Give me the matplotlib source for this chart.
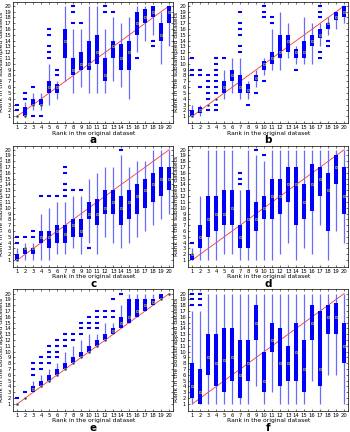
import matplotlib
matplotlib.use("Agg")
import matplotlib.pyplot as plt

positions = list(range(1, 21))

# panel a
a_lo = [1, 1, 2, 2, 3, 4, 7, 5, 6, 5, 5, 5, 7, 6, 4, 12, 14, 15, 10, 13]
a_q1 = [1, 1, 3, 3, 5, 5, 11, 8, 9, 9, 10, 7, 11, 9, 9, 15, 17, 18, 14, 17]
a_med = [1, 1, 3, 3, 6, 6, 14, 9, 10, 10, 12, 8, 13, 11, 12, 17, 18, 19, 15, 19]
a_q3 = [1, 2.5, 4, 4, 7, 6.5, 16, 11, 12, 14, 15, 11, 14, 13.5, 14, 19, 19.5, 20, 17, 20]
a_hi = [1, 3.5, 5, 5, 10, 7, 20, 16, 16, 20, 20, 16, 18, 17, 18, 20, 20, 20, 19, 20]
a_out = [[2, 3], [4, 5], [1, 6], [1], [11, 12, 13, 15, 16], [8, 9], [], [17, 19, 20],
         [17], [], [], [19, 20], [19], [], [], [11], [], [13, 14], [], []]

# panel b
b_lo = [1, 1, 3, 4, 4, 5, 4, 4, 6, 8, 9, 9, 11, 10, 10, 10, 13, 15, 16, 17]
b_q1 = [1, 1.5, 3, 4, 5, 7, 5, 5, 7, 9, 10, 11, 12, 11, 11, 13, 14.5, 16, 17.5, 18]
b_med = [1, 2, 3, 4, 6, 8, 6, 5.5, 7.5, 10, 11, 12, 14, 12, 12, 14, 15, 17, 18, 19]
b_q3 = [2, 2.5, 3, 4, 7, 9, 8, 6.5, 8, 10.5, 12, 15, 15, 12.5, 14, 15, 16, 17, 19, 20]
b_hi = [3, 3, 3, 4, 9, 11, 11, 7, 9, 11, 16, 19, 17, 13, 18, 17, 17, 18, 19, 20]
b_out = [[8, 9, 11], [6, 8, 9], [2, 4, 5, 6, 7, 8], [2, 3, 5, 6, 7, 8, 9, 10, 11], [11], [],
         [12, 13, 15, 16, 17, 19], [3], [5], [7, 18, 19, 20], [17, 18], [], [], [9], [], [],
         [11, 12, 18, 19, 20], [13, 14], [], []]

# panel c
c_lo = [1, 1, 1, 1, 1, 2, 2, 3, 2, 4, 2, 5, 4, 3, 4, 5, 6, 7, 8, 9]
c_q1 = [1, 2, 2, 4, 3, 4, 4, 5, 5, 8, 7, 9, 9, 7, 8, 9, 10, 11, 12, 13]
c_med = [1, 3, 3, 5, 5, 6, 5.5, 7, 6, 9, 9, 10, 11, 10, 11, 12, 13, 14, 15, 15]
c_q3 = [2, 3, 3, 6, 6, 7, 7, 8, 8, 11, 11.5, 13, 13, 12, 13, 14, 15, 16, 17, 17]
c_hi = [3, 4, 4, 9, 10, 11, 11, 12, 12, 15, 16, 17, 17, 19, 17, 18, 18, 20, 20, 20]
c_out = [[4, 5], [5], [5, 6], [12], [12], [12], [12, 13, 14, 16, 17], [13], [13], [3],
         [], [], [], [20], [], [], [], [], [], []]

# panel d
d_lo = [1, 1, 1, 1, 2, 2, 1, 1, 1, 1, 1, 2, 4, 1, 3, 2, 7, 1, 6, 4]
d_q1 = [1, 3, 5, 6, 7, 7, 3, 3, 6, 8, 8, 9, 11, 7, 8, 9.5, 12, 6, 14, 9]
d_med = [2, 5, 8, 9, 9, 10, 5, 8, 8, 10, 12, 12, 14, 14, 11, 14, 15, 13, 17, 12]
d_q3 = [2, 7, 12, 12, 13, 13, 7, 13, 11, 12, 15, 15, 17, 17, 14, 17.5, 17, 16, 19, 17]
d_hi = [3, 12, 20, 20, 20, 20, 13, 20, 19, 18, 20, 20, 20, 20, 20, 20, 20, 20, 20, 20]
d_out = [[4], [], [], [], [], [], [14, 15, 16], [], [20], [19], [], [], [], [], [], [],
         [], [], [], []]

# panel e
e_lo = [1, 2, 3, 4, 5, 6, 7, 8, 9, 10, 11, 12, 13, 14, 15, 16, 17, 18, 19, 20]
e_q1 = [1, 2, 3, 4, 5, 6, 7, 8, 9, 10, 11, 12, 13, 14, 15, 16, 17, 18, 19, 20]
e_med = [1, 2, 3.5, 4, 5, 6, 7, 8, 9, 10, 11, 12, 13.5, 15, 16, 17, 18, 18.5, 19, 20]
e_q3 = [1, 2, 4, 5, 6, 7, 8, 9, 10, 11, 12, 13, 14, 16, 19, 19, 19, 19, 20, 20]
e_hi = [1, 2, 5, 6, 7, 8, 10, 11, 12, 13, 13, 15, 15, 18, 20, 20, 20, 20, 20, 20]
e_out = [[2], [3], [6, 7, 8], [7, 8, 9], [8, 9, 10, 11], [9, 10, 11, 12], [11, 12, 13],
         [12, 13], [13, 14, 15], [14, 15, 16], [14, 15, 16, 17], [16, 17], [16, 17, 19],
         [20], [], [], [], [], [], []]

# panel f
f_lo = [1, 1, 1, 1, 1, 1, 1, 1, 4, 1, 3, 1, 1, 1, 1, 5, 1, 6, 6, 1]
f_q1 = [2, 1, 6, 4, 3, 5, 2, 5, 12, 3, 10, 4, 5, 5, 3, 12, 4, 13, 13, 8]
f_med = [4, 3, 9, 8, 8.5, 9, 6, 8, 15, 5, 12, 8, 8, 10, 7, 15, 7, 16, 16, 11]
f_q3 = [8, 7, 13, 13, 14, 14, 12, 12, 18, 10, 15, 14, 11, 15, 12, 18, 17, 18, 18.3, 15]
f_hi = [17, 17, 20, 20, 20, 20, 20, 20, 20, 20, 20, 20, 20, 20, 20, 20, 20, 20, 20, 20]
f_out = [[18, 19, 20], [18, 19, 20], [], [], [], [], [], [], [], [], [], [], [], [], [],
         [], [], [], [], []]

panels = [
    ("a", a_lo, a_q1, a_med, a_q3, a_hi, a_out, "Rank in the subsampled datasets"),
    ("b", b_lo, b_q1, b_med, b_q3, b_hi, b_out, "Rank in the subsampled datasets"),
    ("c", c_lo, c_q1, c_med, c_q3, c_hi, c_out, "Rank in the subsampled datasets"),
    ("d", d_lo, d_q1, d_med, d_q3, d_hi, d_out, "Rank in the subsampled datasets"),
    ("e", e_lo, e_q1, e_med, e_q3, e_hi, e_out, "Rank in the bootstrapped datasets"),
    ("f", f_lo, f_q1, f_med, f_q3, f_hi, f_out, "Rank in the bootstrapped datasets"),
]

fig = plt.figure(figsize=(3.5, 4.32), dpi=100)
lefts = [0.038, 0.538]
bottoms = [0.715, 0.382, 0.049]
w, h = 0.457, 0.281

for i, (letter, lo, q1, med, q3, hi, out, ylab) in enumerate(panels):
    ax = fig.add_axes([lefts[i % 2], bottoms[i // 2], w, h])
    ax.plot([1, 20], [1, 20], color="#ff3333", lw=0.6, zorder=1)
    ax.vlines(positions, lo, hi, color="#6a6aff", lw=0.9, zorder=2)
    ax.vlines(positions, q1, q3, color="#0000ff", lw=2.9, zorder=3)
    # outliers
    ox = [p for p, o in zip(positions, out) for _ in o]
    oy = [v for o in out for v in o]
    ax.plot(ox, oy, ls="none", marker="_", ms=2.6, mew=1.5, color="#0000ff", zorder=3)
    # medians
    ax.plot(positions, med, ls="none", marker="o", ms=2.2, mfc="#cccccc",
            mec="none", zorder=4)
    ax.plot(positions, med, ls="none", marker=".", ms=1.2, color="#333333", zorder=5)
    ax.set_xlim(0.5, 20.5)
    ax.set_ylim(-0.2, 20.7)
    ax.set_xticks(positions)
    ax.set_yticks(positions)
    ax.tick_params(direction="in", length=1.5, width=0.4, labelsize=3.8, pad=1.5,
                   top=True, right=True)
    for s in ax.spines.values():
        s.set_linewidth(0.5)
    ax.set_xlabel("Rank in the original dataset", fontsize=4.3, labelpad=0.3)
    ax.set_ylabel(ylab, fontsize=4.3, labelpad=0.5)
    ax.text(0.5, -0.138, letter, transform=ax.transAxes, ha="center", va="center",
            fontsize=7.5, fontweight="bold")

fig.savefig("out.png", dpi=100)
